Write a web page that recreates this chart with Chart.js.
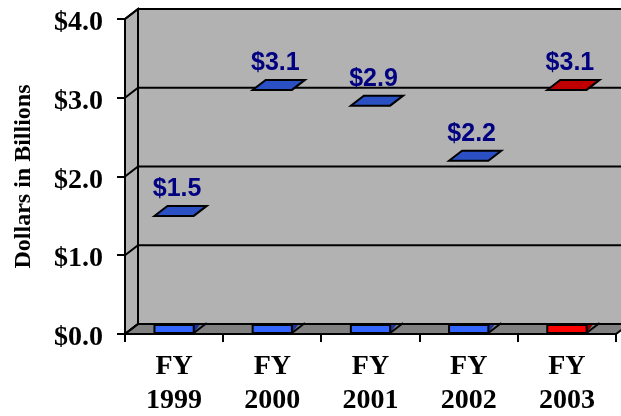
<!DOCTYPE html>
<html><head><meta charset="utf-8">
<script src="https://cdn.jsdelivr.net/npm/chart.js@4/dist/chart.umd.min.js"></script>
<style>html,body{margin:0;padding:0;background:#fff;}#wrap{width:621px;height:416px;}</style>
</head><body><div id="wrap"><canvas id="c" width="621" height="416"></canvas></div>
<script>
const categories = ['FY 1999', 'FY 2000', 'FY 2001', 'FY 2002', 'FY 2003'];
const values = [1.5, 3.1, 2.9, 2.2, 3.1];
const yTicks = [0, 1, 2, 3, 4];
const yTitle = 'Dollars in Billions';
const highlightCategory = 'FY 2003';

const DX = 13, DY = 10;
const SERIF = '"Liberation Serif", "Times New Roman", serif';
const SANS = '"Liberation Sans", Arial, sans-serif';

function poly(ctx, pts, fill) {
  ctx.beginPath();
  ctx.moveTo(pts[0][0], pts[0][1]);
  for (let i = 1; i < pts.length; i++) ctx.lineTo(pts[i][0], pts[i][1]);
  ctx.closePath();
  if (fill) { ctx.fillStyle = fill; ctx.fill(); }
  ctx.stroke();
}

const wallsPlugin = {
  id: 'walls',
  beforeDraw(chart) {
    const ctx = chart.ctx;
    const {left, right, top, bottom} = chart.chartArea;
    const ys = chart.scales.y;
    ctx.save();
    ctx.lineWidth = 2; ctx.strokeStyle = '#000'; ctx.lineJoin = 'miter';
    poly(ctx, [[left + DX, top - DY], [right + DX, top - DY], [right + DX, bottom - DY], [left + DX, bottom - DY]], '#b2b2b2');
    poly(ctx, [[left, top], [left + DX, top - DY], [left + DX, bottom - DY], [left, bottom]], '#b2b2b2');
    poly(ctx, [[left, bottom], [left + DX, bottom - DY], [right + DX, bottom - DY], [right, bottom]], '#808080');
    yTicks.forEach(v => {
      const y = ys.getPixelForValue(v);
      ctx.beginPath();
      ctx.moveTo(left, y); ctx.lineTo(left + DX, y - DY); ctx.lineTo(right + DX, y - DY);
      ctx.stroke();
    });
    ctx.restore();
  },
  afterDatasetsDraw(chart) {
    const ctx = chart.ctx;
    const meta = chart.getDatasetMeta(0);
    ctx.save();
    ctx.lineWidth = 2; ctx.strokeStyle = '#000'; ctx.lineJoin = 'miter';
    meta.data.forEach((bar, i) => {
      const hi = categories[i] === highlightCategory;
      const front = hi ? '#ff0000' : '#3366ff';
      const topC = hi ? '#c00000' : '#2a50c4';
      const side = hi ? '#800000' : '#1a3399';
      const x0 = bar.x - bar.width / 2, x1 = bar.x + bar.width / 2;
      const yb = bar.base, y = bar.y;
      const H = 8;
      ctx.beginPath();
      ctx.moveTo(x1, yb); ctx.lineTo(x1, yb - H); ctx.lineTo(x1 + 6, yb - H); ctx.closePath();
      ctx.fillStyle = side; ctx.fill();
      ctx.beginPath(); ctx.moveTo(x1, yb); ctx.lineTo(x1 + DX, yb - DY); ctx.stroke();
      ctx.fillStyle = front;
      ctx.fillRect(x0, yb - H, x1 - x0, H);
      ctx.strokeRect(x0, yb - H, x1 - x0, H);
      poly(ctx, [[x0, y], [x1, y], [x1 + DX, y - DY], [x0 + DX, y - DY]], topC);
      ctx.fillStyle = '#000080';
      ctx.font = 'bold 25px ' + SANS;
      ctx.textAlign = 'center'; ctx.textBaseline = 'middle';
      ctx.fillText('$' + values[i].toFixed(1), bar.x + 3, y - 27);
    });
    ctx.restore();
  }
};

new Chart(document.getElementById('c'), {
  type: 'bar',
  data: {
    labels: categories.map(c => c.split(' ')),
    datasets: [{
      data: values,
      backgroundColor: 'rgba(0,0,0,0)',
      borderWidth: 0,
      barPercentage: 0.4,
      categoryPercentage: 1
    }]
  },
  options: {
    responsive: false,
    animation: false,
    devicePixelRatio: 1,
    layout: {padding: {left: 0, right: 5, top: 19, bottom: 0}},
    plugins: {legend: {display: false}, tooltip: {enabled: false}},
    scales: {
      y: {
        min: 0, max: 4,
        afterFit: s => { s.width = 125; s.paddingTop = 0; s.paddingBottom = 0; },
        afterBuildTicks: s => { s.ticks = yTicks.map(v => ({value: v})); },
        ticks: {
          padding: 14, color: '#000', labelOffset: 4,
          font: {family: SERIF, size: 28, weight: 'bold'},
          callback: v => '$' + Number(v).toFixed(1)
        },
        grid: {drawOnChartArea: false, drawTicks: true, tickLength: 8, color: '#000', lineWidth: 2},
        border: {color: '#000', width: 2},
        title: {
          display: true, text: yTitle, color: '#000',
          font: {family: SERIF, size: 24, weight: 'bold'},
          padding: {top: 9, bottom: 0}
        }
      },
      x: {
        afterFit: s => { s.height = 82; },
        ticks: {
          padding: 8, color: '#000', maxRotation: 0, autoSkip: false,
          font: {family: SERIF, size: 28, weight: 'bold'}
        },
        grid: {offset: true, drawOnChartArea: false, drawTicks: true, tickLength: 8, color: '#000', lineWidth: 2},
        border: {color: '#000', width: 2}
      }
    }
  },
  plugins: [wallsPlugin]
});
</script>
</body></html>
